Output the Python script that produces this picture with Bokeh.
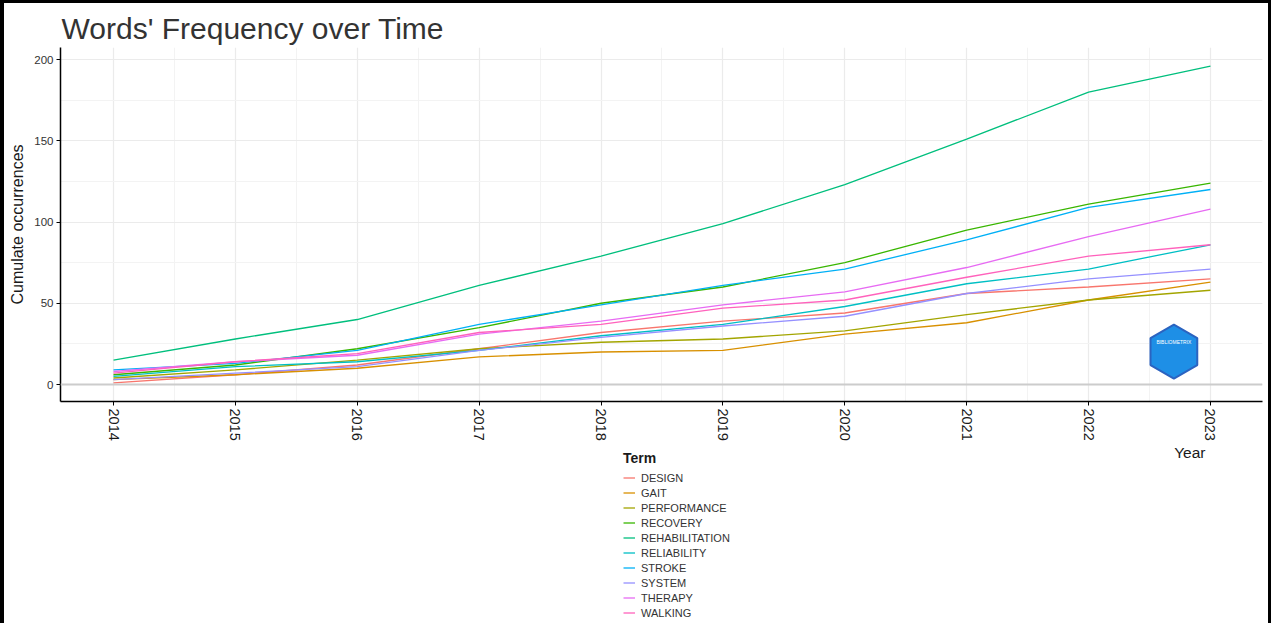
import math
from bokeh.plotting import figure
from bokeh.layouts import column
from bokeh.models import (Range1d, FixedTicker, SingleIntervalTicker, Legend,
                          LegendItem, Span, Label)
from bokeh.embed import file_html
from bokeh.resources import INLINE

years = [2014, 2015, 2016, 2017, 2018, 2019, 2020, 2021, 2022, 2023]
terms = ["DESIGN", "GAIT", "PERFORMANCE", "RECOVERY", "REHABILITATION",
         "RELIABILITY", "STROKE", "SYSTEM", "THERAPY", "WALKING"]
design = [1, 6, 12, 22, 32, 39, 44, 56, 60, 65]
gait = [3, 6, 10, 17, 20, 21, 31, 38, 52, 63]
performance = [4, 9, 15, 22, 26, 28, 33, 43, 52, 58]
recovery = [6, 12, 22, 35, 50, 60, 75, 95, 111, 124]
rehabilitation = [15, 28, 40, 61, 79, 99, 123, 151, 180, 196]
reliability = [5, 11, 14, 21, 30, 37, 48, 62, 71, 86]
stroke = [9, 13, 21, 37, 49, 61, 71, 89, 109, 120]
system = [3, 7, 11, 21, 29, 36, 42, 56, 65, 71]
therapy = [8, 14, 18, 31, 39, 49, 57, 72, 91, 108]
walking = [7, 14, 19, 32, 37, 47, 52, 66, 79, 86]

series = [design, gait, performance, recovery, rehabilitation,
          reliability, stroke, system, therapy, walking]
colors = ["#F8766D", "#D89000", "#A3A500", "#39B600", "#00BF7D",
          "#00BFC4", "#00B0F6", "#9590FF", "#E76BF3", "#FF62BC"]

FONT = "Liberation Sans"
W = 1264
H1 = 440
H2 = 180

# ---------------- main chart ----------------
p = figure(width=W, height=H1, output_backend="svg", toolbar_location=None,
           x_range=Range1d(2013.565, 2023.427), y_range=Range1d(-10.46, 207.4),
           min_border_left=56, min_border_right=6, min_border_top=44,
           min_border_bottom=42, title="Words' Frequency over Time")
p.outline_line_color = None
p.background_fill_color = "white"
p.border_fill_color = "white"

p.title.text_font = FONT
p.title.text_font_size = "30px"
p.title.text_font_style = "normal"
p.title.text_color = "#333333"
p.title.standoff = 6
p.title.offset = 1

p.xaxis.ticker = FixedTicker(ticks=years,
                             minor_ticks=[y + 0.5 for y in years] + [2013.5])
p.yaxis.ticker = SingleIntervalTicker(interval=50, num_minor_ticks=2)

for ax in (p.xaxis, p.yaxis):
    ax.axis_line_color = "black"
    ax.axis_line_width = 1.5
    ax.major_tick_line_color = "black"
    ax.major_tick_out = 4
    ax.major_tick_in = 0
    ax.minor_tick_line_color = None
    ax.major_label_text_font = FONT

p.xaxis.major_label_orientation = "vertical"
p.xaxis.major_label_text_font_size = "14.5px"
p.xaxis.major_label_text_color = "#1a1a1a"
p.xaxis.major_label_standoff = 3
p.yaxis.major_label_text_font_size = "11.5px"
p.yaxis.major_label_text_color = "#333333"
p.yaxis.major_label_standoff = 3
p.yaxis.axis_label = "Cumulate occurrences"
p.yaxis.axis_label_text_font = FONT
p.yaxis.axis_label_text_font_size = "16px"
p.yaxis.axis_label_text_font_style = "normal"
p.yaxis.axis_label_text_color = "#1a1a1a"
p.yaxis.axis_label_standoff = 5

for g in (p.xgrid, p.ygrid):
    g.grid_line_color = "#ebebeb"
    g.grid_line_width = 1.2
    g.minor_grid_line_color = "#f3f3f3"
    g.minor_grid_line_width = 1

p.add_layout(Span(location=0, dimension="width", line_color="#cccccc",
                  line_width=1.8))

for name, vals, col in zip(terms, series, colors):
    p.line(years, vals, line_color=col, line_width=1.3)

# logo
p.scatter(x=[2022.70], y=[20.3], marker="hex", size=54, angle=math.pi / 2,
          fill_color="#1e8fe6", line_color="#2b63c0", line_width=2)
p.add_layout(Label(x=2022.70, y=26, text="BIBLIOMETRIX", text_align="center",
                   text_baseline="middle", text_font=FONT,
                   text_font_size="5px", text_color="white"))

# ---------------- x title + legend strip ----------------
q = figure(width=W, height=H2, output_backend="svg", toolbar_location=None,
           x_range=Range1d(0, W), y_range=Range1d(0, H2),
           x_axis_location=None, y_axis_location=None,
           min_border_left=0, min_border_right=0, min_border_top=0,
           min_border_bottom=0)
q.grid.visible = False
q.outline_line_color = None
q.background_fill_color = "white"
q.border_fill_color = "white"

items = []
for name, vals, col in zip(terms, series, colors):
    # legend key proxies (the years lie outside this strip's x range)
    r = q.line(years, vals, line_color=col, line_width=1.3)
    items.append(LegendItem(label=name, renderers=[r]))

legend = Legend(items=items, location=(563, 3), title="Term",
                border_line_color=None, background_fill_alpha=0,
                title_text_font=FONT, title_text_font_size="14px",
                title_text_font_style="bold", title_text_color="#1a1a1a",
                title_standoff=4,
                label_text_font=FONT, label_text_font_size="11px",
                label_text_color="#333333", glyph_width=12, glyph_height=15,
                label_height=15, label_standoff=6, spacing=0, padding=4,
                margin=0)
q.add_layout(legend, "center")

q.add_layout(Label(x=1204, y=H2 - 0.5, text="Year", text_align="right",
                   text_baseline="top", text_font=FONT,
                   text_font_size="15.5px", text_color="#1a1a1a"))

layout = column(p, q, spacing=0,
                styles={"border-left": "4px solid black",
                        "border-top": "3px solid black",
                        "border-right": "3px solid black"})

open("out.html", "w").write(file_html(layout, INLINE))
